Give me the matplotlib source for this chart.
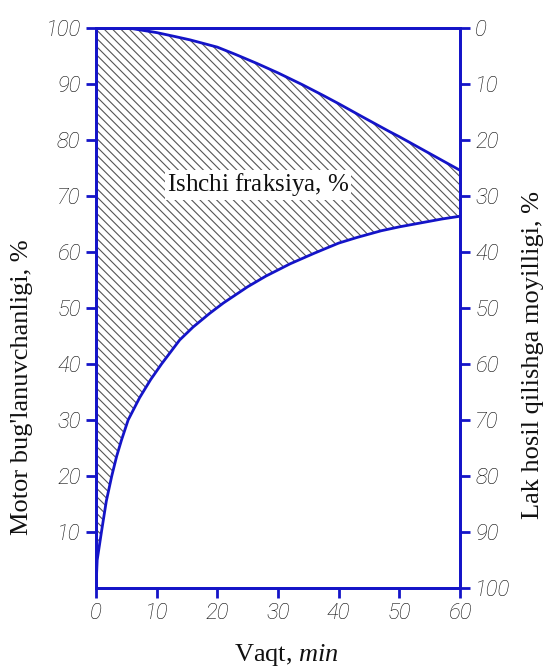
import matplotlib
matplotlib.use("Agg")
import matplotlib.pyplot as plt

# values
time_upper = [0, 3, 6, 10, 13, 15.5, 20, 23, 26.5, 30, 34, 37.4, 40, 44, 48.4, 50, 55, 60]
volatility_upper = [100, 100, 99.9, 99.2, 98.5, 97.9, 96.6, 95.3, 93.7, 92.0, 89.9, 88.0,
                    86.5, 84.1, 81.5, 80.6, 77.6, 74.6]

time_lower = [0, 0.2, 0.9, 1.7, 2.6, 3.4, 4.2, 5.3, 7.2, 9.0, 10.8, 13.8, 16, 18.8, 21,
              25, 28, 32, 36, 40, 43, 47, 50, 54, 57, 60]
volatility_lower = [0, 5, 10, 15.5, 20, 23.5, 26.4, 30, 34, 37.2, 40, 44.3, 46.6, 49.1, 50.9,
                    53.8, 55.7, 57.9, 59.8, 61.6, 62.6, 63.8, 64.5, 65.3, 65.9, 66.4]

x_ticks = [0, 10, 20, 30, 40, 50, 60]
left_ticks = [10, 20, 30, 40, 50, 60, 70, 80, 90, 100]
right_ticks = [0, 10, 20, 30, 40, 50, 60, 70, 80, 90, 100]

blue = '#1414c8'
plt.rcParams['hatch.linewidth'] = 0.8
plt.rcParams['mathtext.fontset'] = 'custom'
plt.rcParams['mathtext.it'] = 'Liberation Serif:italic'
plt.rcParams['mathtext.rm'] = 'Liberation Serif'

tick_font = dict(family='Roboto', style='italic', weight='light', size=16, color='#111111')
label_font = dict(family='Liberation Serif', size=19, color='#111111')

fig = plt.figure(figsize=(5.5, 6.69), dpi=100)
ax = fig.add_axes([0.1745, 0.1211, 0.6619, 0.8369])

# hatched working fraction between the two curves
ax.fill(time_upper + time_lower[::-1], volatility_upper + volatility_lower[::-1],
        facecolor='white', edgecolor='#555555', linewidth=0, hatch='\\\\\\\\', zorder=1)
ax.plot(time_upper, volatility_upper, color=blue, lw=2, zorder=3)
ax.plot(time_lower, volatility_lower, color=blue, lw=2, zorder=3)

ax.set_xlim(0, 60)
ax.set_ylim(0, 100)
ax.set_xticks(x_ticks)
ax.set_yticks(left_ticks)
ax.set_xticklabels([str(v) for v in x_ticks], **tick_font)
ax.set_yticklabels([str(v) for v in left_ticks], **tick_font)

ax2 = ax.twinx()
ax2.set_ylim(100, 0)
ax2.set_yticks(right_ticks)
ax2.set_yticklabels([str(v) for v in right_ticks], **tick_font)

for a in (ax, ax2):
    for s in a.spines.values():
        s.set_color(blue)
        s.set_linewidth(2)
    a.tick_params(direction='out', length=7, width=2, color=blue, pad=4)

fig.text(286 / 550, 1 - 655 / 669, 'Vaqt, $\\mathit{min}$', ha='center', va='center', **label_font)
fig.text(22 / 550, 1 - 387 / 669, "Motor bug'lanuvchanligi, %", rotation=90,
         ha='center', va='center', **label_font)
fig.text(533 / 550, 1 - 355 / 669, 'Lak hosil qilishga moyilligi, %', rotation=90,
         ha='center', va='center', **label_font)

ax.text(26.7, 72, 'Ishchi fraksiya, $\\mathit{\\%}$', ha='center', va='center',
        family='Liberation Serif', size=18, color='#111111', zorder=4,
        bbox=dict(facecolor='white', edgecolor='none', pad=1))

fig.savefig('out.png', dpi=100)
